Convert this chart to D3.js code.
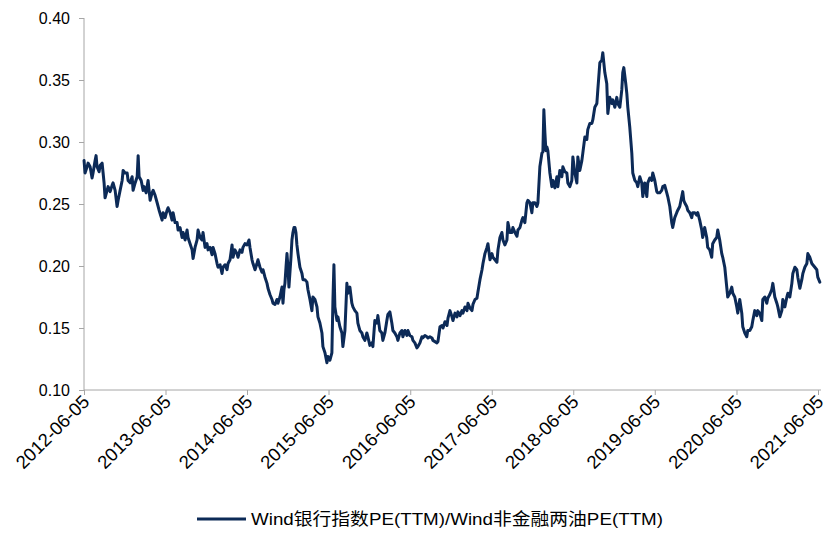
<!DOCTYPE html>
<html><head><meta charset="utf-8">
<script src="https://cdn.jsdelivr.net/npm/d3@7"></script>
<style>
html,body{margin:0;padding:0;background:#fff;}
svg{display:block;font-family:"Liberation Sans",Arial,"Noto Sans CJK SC",sans-serif;}
</style></head>
<body><svg id="c" width="831" height="537"></svg>
<script>
// decimal-year dates of each observation
const years = [2012.427,2012.439,2012.464,2012.476,2012.501,2012.525,2012.537,2012.562,2012.574,2012.586,2012.611,2012.623,2012.648,2012.660,2012.672,2012.684,2012.709,2012.721,2012.746,2012.770,2012.782,2012.807,2012.831,2012.844,2012.868,2012.893,2012.905,2012.929,2012.954,2012.966,2012.991,2013.015,2013.027,2013.052,2013.077,2013.089,2013.101,2013.126,2013.150,2013.162,2013.187,2013.211,2013.236,2013.260,2013.273,2013.297,2013.322,2013.346,2013.383,2013.395,2013.420,2013.444,2013.456,2013.481,2013.505,2013.518,2013.542,2013.567,2013.579,2013.603,2013.628,2013.640,2013.665,2013.689,2013.701,2013.726,2013.751,2013.763,2013.787,2013.812,2013.824,2013.849,2013.873,2013.885,2013.910,2013.934,2013.947,2013.971,2013.996,2014.008,2014.032,2014.057,2014.069,2014.094,2014.118,2014.130,2014.155,2014.179,2014.192,2014.216,2014.241,2014.253,2014.277,2014.302,2014.314,2014.339,2014.363,2014.375,2014.400,2014.425,2014.449,2014.461,2014.486,2014.498,2014.523,2014.547,2014.559,2014.584,2014.608,2014.621,2014.645,2014.670,2014.682,2014.706,2014.731,2014.743,2014.768,2014.792,2014.804,2014.829,2014.854,2014.866,2014.878,2014.890,2014.903,2014.915,2014.927,2014.939,2014.964,2014.976,2014.988,2015.001,2015.013,2015.025,2015.037,2015.050,2015.074,2015.099,2015.111,2015.135,2015.160,2015.172,2015.197,2015.221,2015.233,2015.258,2015.283,2015.295,2015.319,2015.344,2015.356,2015.381,2015.405,2015.417,2015.442,2015.466,2015.479,2015.491,2015.503,2015.528,2015.540,2015.564,2015.589,2015.601,2015.626,2015.650,2015.662,2015.687,2015.711,2015.724,2015.748,2015.773,2015.785,2015.809,2015.834,2015.846,2015.871,2015.895,2015.907,2015.932,2015.956,2015.969,2015.993,2016.018,2016.030,2016.054,2016.079,2016.091,2016.116,2016.140,2016.153,2016.177,2016.201,2016.214,2016.238,2016.263,2016.275,2016.300,2016.324,2016.336,2016.361,2016.385,2016.398,2016.422,2016.447,2016.459,2016.483,2016.508,2016.520,2016.545,2016.569,2016.581,2016.606,2016.630,2016.643,2016.667,2016.692,2016.704,2016.729,2016.753,2016.765,2016.790,2016.814,2016.827,2016.851,2016.876,2016.888,2016.912,2016.937,2016.949,2016.974,2016.998,2017.010,2017.035,2017.059,2017.072,2017.096,2017.121,2017.133,2017.157,2017.182,2017.194,2017.219,2017.243,2017.255,2017.280,2017.305,2017.317,2017.341,2017.366,2017.378,2017.403,2017.427,2017.439,2017.464,2017.488,2017.501,2017.525,2017.549,2017.562,2017.586,2017.611,2017.623,2017.648,2017.672,2017.684,2017.709,2017.734,2017.746,2017.770,2017.795,2017.807,2017.831,2017.856,2017.868,2017.893,2017.917,2017.929,2017.954,2017.979,2017.991,2018.015,2018.040,2018.052,2018.064,2018.077,2018.089,2018.101,2018.113,2018.138,2018.162,2018.175,2018.199,2018.224,2018.236,2018.260,2018.285,2018.297,2018.322,2018.346,2018.358,2018.383,2018.407,2018.420,2018.444,2018.469,2018.481,2018.505,2018.530,2018.542,2018.567,2018.591,2018.603,2018.628,2018.653,2018.665,2018.689,2018.714,2018.726,2018.751,2018.775,2018.787,2018.812,2018.836,2018.849,2018.873,2018.898,2018.910,2018.935,2018.959,2018.971,2018.996,2019.020,2019.032,2019.045,2019.069,2019.082,2019.094,2019.118,2019.143,2019.155,2019.180,2019.204,2019.216,2019.241,2019.265,2019.278,2019.302,2019.327,2019.339,2019.363,2019.388,2019.400,2019.425,2019.449,2019.461,2019.486,2019.510,2019.523,2019.547,2019.572,2019.584,2019.609,2019.633,2019.645,2019.670,2019.694,2019.707,2019.731,2019.756,2019.768,2019.780,2019.792,2019.817,2019.829,2019.854,2019.878,2019.890,2019.915,2019.939,2019.952,2019.976,2020.001,2020.013,2020.037,2020.062,2020.074,2020.099,2020.123,2020.135,2020.160,2020.184,2020.197,2020.221,2020.246,2020.258,2020.283,2020.307,2020.319,2020.344,2020.368,2020.381,2020.405,2020.430,2020.442,2020.466,2020.491,2020.503,2020.528,2020.552,2020.564,2020.589,2020.613,2020.626,2020.650,2020.675,2020.687,2020.711,2020.736,2020.748,2020.773,2020.797,2020.809,2020.834,2020.858,2020.871,2020.895,2020.920,2020.932,2020.957,2020.981,2020.993,2021.018,2021.043,2021.055,2021.079,2021.104,2021.116,2021.141,2021.165,2021.177,2021.202,2021.226,2021.239,2021.263,2021.288,2021.300,2021.324,2021.349,2021.361,2021.386,2021.410,2021.422,2021.447];
// Wind银行指数PE(TTM)/Wind非金融两油PE(TTM)
const ratio = [0.285,0.275,0.280,0.283,0.280,0.271,0.275,0.285,0.289,0.280,0.276,0.281,0.283,0.275,0.267,0.255,0.261,0.264,0.260,0.265,0.267,0.261,0.248,0.253,0.261,0.269,0.277,0.275,0.275,0.269,0.267,0.272,0.261,0.267,0.272,0.289,0.272,0.269,0.261,0.264,0.259,0.269,0.253,0.259,0.261,0.257,0.251,0.245,0.237,0.243,0.239,0.245,0.247,0.243,0.237,0.243,0.235,0.235,0.229,0.231,0.223,0.227,0.221,0.229,0.223,0.218,0.213,0.206,0.215,0.221,0.229,0.223,0.221,0.227,0.215,0.218,0.213,0.215,0.209,0.215,0.210,0.202,0.199,0.201,0.194,0.199,0.201,0.197,0.202,0.205,0.217,0.207,0.213,0.210,0.207,0.213,0.211,0.215,0.218,0.217,0.221,0.215,0.205,0.202,0.197,0.202,0.205,0.199,0.195,0.197,0.191,0.186,0.182,0.177,0.173,0.170,0.169,0.173,0.170,0.175,0.183,0.170,0.181,0.186,0.199,0.210,0.199,0.183,0.207,0.221,0.227,0.231,0.231,0.227,0.217,0.210,0.199,0.194,0.189,0.189,0.187,0.181,0.173,0.164,0.175,0.173,0.167,0.159,0.154,0.146,0.135,0.130,0.122,0.127,0.124,0.130,0.173,0.201,0.167,0.156,0.159,0.151,0.146,0.135,0.148,0.186,0.178,0.183,0.170,0.167,0.164,0.162,0.154,0.148,0.146,0.143,0.140,0.146,0.143,0.136,0.138,0.135,0.156,0.154,0.160,0.148,0.146,0.140,0.146,0.156,0.161,0.163,0.154,0.148,0.146,0.143,0.140,0.146,0.148,0.143,0.148,0.144,0.148,0.144,0.143,0.140,0.138,0.134,0.135,0.138,0.143,0.142,0.144,0.143,0.142,0.143,0.142,0.140,0.139,0.138,0.139,0.151,0.152,0.150,0.155,0.152,0.158,0.164,0.159,0.156,0.162,0.159,0.163,0.160,0.164,0.162,0.167,0.164,0.170,0.166,0.164,0.169,0.173,0.174,0.179,0.189,0.197,0.202,0.210,0.215,0.218,0.205,0.210,0.207,0.205,0.203,0.213,0.223,0.227,0.221,0.217,0.221,0.235,0.227,0.227,0.231,0.227,0.224,0.229,0.231,0.237,0.239,0.235,0.251,0.253,0.251,0.243,0.251,0.251,0.248,0.251,0.280,0.291,0.292,0.326,0.307,0.293,0.296,0.293,0.275,0.264,0.269,0.263,0.272,0.264,0.277,0.272,0.280,0.276,0.275,0.267,0.264,0.269,0.288,0.275,0.267,0.288,0.277,0.285,0.291,0.304,0.302,0.310,0.315,0.315,0.318,0.328,0.331,0.342,0.364,0.366,0.372,0.356,0.347,0.323,0.336,0.331,0.334,0.328,0.336,0.331,0.328,0.342,0.356,0.360,0.347,0.339,0.328,0.312,0.291,0.275,0.269,0.267,0.264,0.272,0.267,0.256,0.267,0.256,0.267,0.271,0.269,0.275,0.269,0.260,0.259,0.259,0.261,0.264,0.265,0.259,0.256,0.248,0.235,0.231,0.239,0.243,0.245,0.248,0.256,0.260,0.253,0.251,0.248,0.245,0.243,0.239,0.243,0.243,0.241,0.243,0.237,0.229,0.223,0.231,0.223,0.215,0.213,0.207,0.218,0.221,0.223,0.229,0.221,0.210,0.207,0.199,0.183,0.175,0.178,0.183,0.178,0.175,0.167,0.162,0.173,0.162,0.151,0.146,0.143,0.148,0.148,0.151,0.156,0.164,0.160,0.164,0.162,0.156,0.173,0.175,0.170,0.174,0.177,0.181,0.186,0.175,0.170,0.167,0.159,0.164,0.173,0.167,0.175,0.178,0.175,0.186,0.194,0.199,0.197,0.191,0.182,0.189,0.194,0.199,0.202,0.210,0.207,0.202,0.201,0.199,0.197,0.191,0.187];
const tickLabels = ["2012-06-05","2013-06-05","2014-06-05","2015-06-05","2016-06-05","2017-06-05","2018-06-05","2019-06-05","2020-06-05","2021-06-05"];
const yTicks = [0.10,0.15,0.20,0.25,0.30,0.35,0.40];
const seriesName = "Wind银行指数PE(TTM)/Wind非金融两油PE(TTM)";

function toDate(t){const yr=Math.floor(t);const s=new Date(yr,0,1),e=new Date(yr+1,0,1);return new Date(+s+(t-yr)*(e-s));}
const parse = d3.timeParse("%Y-%m-%d");
const data = years.map((t,i)=>({date:toDate(t),value:ratio[i]}));
const tickDates = tickLabels.map(parse);

const svg = d3.select("#c");
const x = d3.scaleTime().domain([tickDates[0], tickDates[tickDates.length-1]]).range([84,818]);
const y = d3.scaleLinear().domain([0.10,0.40]).range([390,18]);
const axisColor = "#a6a6a6";

// y axis
const gy = svg.append("g").attr("transform","translate(84,0)")
  .call(d3.axisLeft(y).tickValues(yTicks).tickFormat(d3.format(".2f")).tickSize(5).tickPadding(8));
gy.select(".domain").attr("stroke",axisColor).attr("d","M0,18V390");
gy.selectAll(".tick line").attr("stroke",axisColor);
gy.selectAll(".tick text").attr("fill","#000").style("font-size","16px").attr("dx","-1");

// x axis
const gx = svg.append("g").attr("transform","translate(0,390)")
  .call(d3.axisBottom(x).tickValues(tickDates).tickFormat((d,i)=>tickLabels[i]).tickSize(5));
gx.select(".domain").attr("stroke",axisColor).attr("d","M84,0H821");
gx.selectAll(".tick line").attr("stroke",axisColor);
gx.selectAll(".tick text").attr("fill","#000").style("font-size","18.5px")
  .attr("text-anchor","end").attr("dy",null).attr("y",0)
  .attr("transform","translate(6,13) rotate(-45)");

// line
svg.append("path").datum(data)
  .attr("fill","none").attr("stroke","#0c2a57").attr("stroke-width",3)
  .attr("stroke-linejoin","round").attr("stroke-linecap","round")
  .attr("d", d3.line().x(d=>x(d.date)).y(d=>y(d.value)));

// legend
const lg = svg.append("g");
lg.append("line").attr("x1",197).attr("x2",246).attr("y1",519).attr("y2",519)
  .attr("stroke","#0c2a57").attr("stroke-width",3);
lg.append("text").attr("x",251).attr("y",525).style("font-size","16.5px").attr("fill","#000")
  .attr("textLength",412).attr("lengthAdjust","spacingAndGlyphs").text(seriesName);
</script></body></html>
